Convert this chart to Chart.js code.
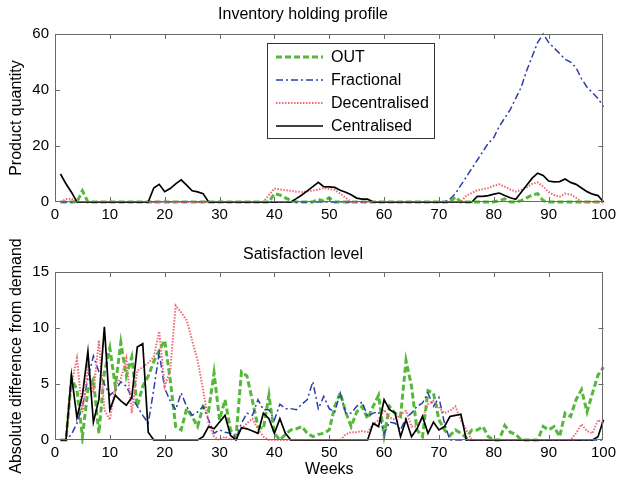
<!DOCTYPE html>
<html><head><meta charset="utf-8">
<script src="https://cdn.jsdelivr.net/npm/chart.js@4/dist/chart.umd.min.js"></script>
<style>
html,body{margin:0;padding:0;background:#fff;width:620px;height:483px;overflow:hidden}
canvas{position:absolute;left:0}
#c1{top:0}
#c2{top:231px}
</style></head>
<body>
<canvas id="c1" width="620" height="241" style="width:620px;height:241px"></canvas>
<canvas id="c2" width="620" height="252" style="width:620px;height:252px"></canvas>
<script>
// ---------------- data ----------------
const weeks = [1,2,3,4,5,6,7,8,9,10,11,12,13,14,15,16,17,18,19,20,
  21,22,23,24,25,26,27,28,29,30,31,32,33,34,35,36,37,38,39,40,
  41,42,43,44,45,46,47,48,49,50,51,52,53,54,55,56,57,58,59,60,
  61,62,63,64,65,66,67,68,69,70,71,72,73,74,75,76,77,78,79,80,
  81,82,83,84,85,86,87,88,89,90,91,92,93,94,95,96,97,98,99,100];

const seriesNames = ['OUT','Fractional','Decentralised','Centralised'];

const xTicks = [0,10,20,30,40,50,60,70,80,90,100];
const invTicks = [0,20,40,60];
const satTicks = [0,5,10,15];

// Inventory holding profile (product quantity)
const invOUT = [0,0,0,0,4,0,0,0,0,0,
  0,0,0,0,0,0,0,0,0,0,
  0,0,0,0,0,0,0,0,0,0,
  0,0,0,0,0,0,0,0,0,3,
  2.5,1.5,0.5,0,0,0,0,1,0.3,1.5,
  0,0,0,0,0,0,0,0,0,0,
  0,0,0,0,0,0,0,0,0,0,
  0,0,1.8,0,0,0,0,0,0,0,
  0.5,1.1,0,0,0.5,1.5,2.5,3,0.5,0,
  0,0,0,0,0,0,0,0,0,0];
const invFractional = [0,0,0,0,0,0,0,0,0,0,
  0,0,0,0,0,0,0,0,0,0,
  0,0,0,0,0,0,0,0,0,0,
  0,0,0,0,0,0,0,0,0,0,
  0,0,0,0,0,0,0,0,0,0,
  0,0,0,0,0,0,0,0,0,0,
  0,0,0,0,0,0,0,0,0,0,
  0,1,3,6,9,12,15,18,21,23,
  27,30,33,37,41,47,52,57,60,57,
  55,53,51,50,48,44,41,39,37,34];
const invDecentralised = [0,1,1.2,0,0,0,0,0,0,0,
  0,0,0,0,0,0,0,0,0,0,
  0,0,0,0,0,0,0,0,0,0,
  0,0,0,0,0,0,0,0,2.5,4.8,
  4.5,4.2,4,3.7,3.6,3.8,4.1,4.4,5,4.6,
  4.3,3,1.5,0,0,0,0,0,0,0,
  0,0,0,0,0,0,0,0,0,0,
  0,0,0,0,2.3,3.2,4.2,4.6,5,5.8,
  6.3,5.5,4.5,3.7,4.3,5.2,6.5,7,5.5,3.6,
  2.5,1.9,3,2.7,1.5,0,0,0,0,0];
const invCentralised = [10,6.5,3.5,0,0,0,0,0,0,0,
  0,0,0,0,0,0,0,5,6.3,3.7,
  4.8,6.5,7.9,6,4,3.6,3,0,0,0,
  0,0,0,0,0,0,0,0,0,0,
  0,0,0,1.2,2.5,4,5.5,7,5.5,5.4,
  5.2,4.2,3.5,2.6,1.4,1,1,0,0,0,
  0,0,0,0,0,0,0,0,0,0,
  0,0,0,0,0,0,2,2,2.3,2.8,
  3.2,2.3,1.5,1,3.5,6,8.5,10.3,9.5,7.5,
  7.2,7.3,8.2,7,6.3,5,3.7,2.8,2.3,0];

// Satisfaction level (absolute difference from demand)
const satOUT = [0,0,5.5,4.5,0.3,4.5,5.4,0.6,6,8.2,
  4.8,8.7,5.7,7.4,3,4.8,5.7,7,8,8.9,
  5.4,1.2,0.9,2.8,2.1,1.2,3,2.6,6,1.8,
  3.6,0.9,0.3,6.1,5.7,3.5,1.2,1,4,0.6,
  0,0.5,0.9,1,1.2,0.6,0.3,0.5,0.6,0.9,
  3,4.2,2.5,1.2,2.5,3,1.9,3,4,0.4,
  3,2.4,2.1,7.1,4.8,0.9,0.3,4.4,4.2,1.8,
  0.9,0.4,0.9,0.6,0.2,0.9,0.9,1.2,0.3,0,
  0,1.3,0.7,0.5,0,0,0,0,1.2,0.9,
  1.2,0.3,2.4,2.1,3.6,4.5,2.5,4.2,5.8,6.5];
const satFractional = [0,0,0.5,1.5,3,5.5,7.5,6.1,5,4,
  4.4,5.2,4.8,3.8,3,2.2,1.5,4.5,7.8,4.6,
  3.5,2.7,4.2,3,2.2,2.5,3,1.8,0.6,0.9,
  0.7,0.6,0.2,1.5,2.4,2.2,3.6,2.7,2.7,1.8,
  3.2,2.8,2.8,2.7,3.2,3.6,5.2,2.8,3.9,2.8,
  2.5,4.2,2.4,2.4,3,3.4,2.1,2.4,2.5,0.6,
  1.6,1.5,0.9,2,2.4,3,3.3,4.2,3,3.8,
  1.5,0,0,0,0,0,0,0,0,0,
  0,0,0,0,0,0,0,0,0,0,
  0,0,0,0,0,0,0,0,0,0];
const satDecentralised = [0,0,5,7.3,2.4,6.5,4.2,8.9,2.7,1.8,
  4.8,5.5,7.3,2.4,6.2,6.5,6.9,7.4,9.7,4.8,
  6.2,12,11.4,10.7,8.9,7.1,4.5,1.5,0.3,0,
  0.3,0,0.4,1,1.5,1.9,1,0.3,0,0,
  0,0,0,0,0,0,0,0,0,0,
  0,0,0.5,0.7,0.7,0.8,0.7,1.4,1.8,2.7,
  2,1.8,2.3,2.6,1.2,1.2,2,3.2,3.5,2.9,
  2.4,2.6,3,1.8,0.9,0,0,0,0,0,
  0,0,0,0,0,0,0,0,0,0,
  0,0,0,0,0.6,1.4,0.8,0.6,1.8,1.5];
const satCentralised = [0,0,5.8,2,4,7.9,1.6,3.6,10.1,2.7,
  4,3.5,3.1,3.8,8.3,8.6,0.7,0,0,0,
  0,0,0,0,0,0,0.3,1.2,1,1.6,
  2.2,0.4,0,1.1,1,0.8,0.6,2.4,1.9,0.6,
  1.9,0.6,0,0,0,0,0,0,0,0,
  0,0,0,0,0,0,0,1.5,1.2,3.6,
  2.7,2.4,0.3,1.8,0.3,1,2.1,0.6,1.6,0.9,
  1.2,2.1,2.2,2.3,0,0,0,0,0,0,
  0,0,0,0,0,0,0,0,0,0,
  0,0,0,0,0,0,0,0,0.3,1.8];

// ---------------- styling ----------------
const FONT = '"Liberation Sans", Arial, Helvetica, sans-serif';
const lineStyles = [
  {color:'rgb(86,184,58)', width:3, dash:[6,3]},
  {color:'rgb(44,62,166)', width:1.5, dash:[7,3,2,3]},
  {color:'rgb(238,105,118)', width:2, dash:[1.5,1.5]},
  {color:'#000000', width:1.7, dash:[]}
];

function makeDatasets(seriesList){
  return seriesList.map((vals,i)=>({
    label: seriesNames[i],
    data: weeks.map((w,k)=>({x:w, y:vals[k]})),
    borderColor: lineStyles[i].color,
    borderWidth: lineStyles[i].width,
    borderDash: lineStyles[i].dash,
    pointRadius: 0,
    tension: 0,
    fill: false,
    clip: 4,
    order: 4 - i
  }));
}

const framePlugin = {
  id: 'matlabFrame',
  afterDatasetsDraw(chart){
    const {ctx, chartArea:a, scales:{x, y}} = chart;
    ctx.save();
    ctx.strokeStyle = '#6a6a6a';
    ctx.lineWidth = 1;
    ctx.strokeRect(Math.round(a.left)+0.5, Math.round(a.top)+0.5,
                   Math.round(a.right-a.left)-1, Math.round(a.bottom-a.top)-1);
    const tl = 5;
    ctx.beginPath();
    x.ticks.forEach(t=>{
      if (t.value <= x.min || t.value >= x.max) return;
      const px = Math.round(x.getPixelForValue(t.value))+0.5;
      ctx.moveTo(px, a.bottom); ctx.lineTo(px, a.bottom-tl);
      ctx.moveTo(px, a.top); ctx.lineTo(px, a.top+tl);
    });
    y.ticks.forEach(t=>{
      if (t.value <= y.min || t.value >= y.max) return;
      const py = Math.round(y.getPixelForValue(t.value))+0.5;
      ctx.moveTo(a.left, py); ctx.lineTo(a.left+tl, py);
      ctx.moveTo(a.right, py); ctx.lineTo(a.right-tl, py);
    });
    ctx.stroke();
    ctx.restore();
  },
  afterDraw(chart){
    // vertical axis title, drawn without width compression (may exceed the plot height)
    const text = chart.options.plugins.matlabFrame && chart.options.plugins.matlabFrame.yTitle;
    if (!text) return;
    const {ctx, chartArea:a} = chart;
    ctx.save();
    ctx.translate(17, (a.top + a.bottom) / 2);
    ctx.rotate(-Math.PI/2);
    ctx.font = '16px ' + FONT;
    ctx.fillStyle = '#000';
    ctx.textAlign = 'center';
    ctx.textBaseline = 'middle';
    ctx.fillText(text, 0, 0);
    ctx.restore();
  }
};

const boxLegendPlugin = {
  id: 'boxLegend',
  afterDraw(chart){
    const ctx = chart.ctx;
    const L = 267, T = 43, R = 435, B = 139;
    const rowY = [57, 80, 103, 126];
    ctx.save();
    ctx.fillStyle = '#fff';
    ctx.fillRect(L, T, R-L, B-T);
    ctx.strokeStyle = '#333';
    ctx.lineWidth = 1;
    ctx.strokeRect(L+0.5, T+0.5, R-L-1, B-T-1);
    ctx.font = '16px ' + FONT;
    ctx.textBaseline = 'middle';
    chart.data.datasets.forEach((ds,i)=>{
      ctx.beginPath();
      ctx.strokeStyle = ds.borderColor;
      ctx.lineWidth = ds.borderWidth;
      ctx.setLineDash(ds.borderDash);
      ctx.moveTo(276, rowY[i]); ctx.lineTo(323, rowY[i]);
      ctx.stroke();
      ctx.setLineDash([]);
      ctx.fillStyle = '#000';
      ctx.fillText(ds.label, 331, rowY[i]+1);
    });
    ctx.restore();
  }
};

function makeChart(canvasId, seriesList, cfg){
  return new Chart(document.getElementById(canvasId), {
    type: 'line',
    data: { datasets: makeDatasets(seriesList) },
    options: {
      responsive: false,
      animation: false,
      devicePixelRatio: 1,
      layout: { padding: { left: 0, right: 14, top: 0, bottom: 0 } },
      plugins: {
        legend: { display: false },
        tooltip: { enabled: false },
        matlabFrame: { yTitle: cfg.yTitle },
        title: {
          display: true, text: cfg.title, color: '#000',
          font: { family: FONT, size: 16, weight: 'normal' },
          padding: cfg.titlePad
        }
      },
      scales: {
        x: {
          type: 'linear', min: 0, max: 100,
          afterBuildTicks: s => { s.ticks = xTicks.map(v=>({value:v})); },
          afterFit: s => { s.height = cfg.xHeight; },
          grid: { display: false, drawTicks: false },
          border: { display: false },
          ticks: { color: '#000', padding: 4, maxRotation: 0, autoSkip: false,
                   font: { family: FONT, size: 15 } },
          title: cfg.xTitle ? { display: true, text: cfg.xTitle, color: '#000',
                   font: { family: FONT, size: 16 }, padding: { top: 0, bottom: 3.4 } }
                 : { display: false }
        },
        y: {
          type: 'linear', min: cfg.yTicks[0], max: cfg.yTicks[cfg.yTicks.length-1],
          afterBuildTicks: s => { s.ticks = cfg.yTicks.map(v=>({value:v})); },
          afterFit: s => { s.width = 55; },
          grid: { display: false, drawTicks: false },
          border: { display: false },
          ticks: { color: '#000', padding: 6, font: { family: FONT, size: 15 } },
          title: { display: false }
        }
      }
    },
    plugins: cfg.legend ? [framePlugin, boxLegendPlugin] : [framePlugin]
  });
}

makeChart('c1', [invOUT, invFractional, invDecentralised, invCentralised], {
  title: 'Inventory holding profile',
  titlePad: { top: 5.4, bottom: 9.4 },
  xHeight: 39,
  yTicks: invTicks,
  yTitle: 'Product quantity',
  legend: true
});

makeChart('c2', [satOUT, satFractional, satDecentralised, satCentralised], {
  title: 'Satisfaction level',
  titlePad: { top: 14.4, bottom: 7.4 },
  xHeight: 43,
  xTitle: 'Weeks',
  yTicks: satTicks,
  yTitle: 'Absolute difference from demand',
  legend: false
});
</script>
</body></html>
